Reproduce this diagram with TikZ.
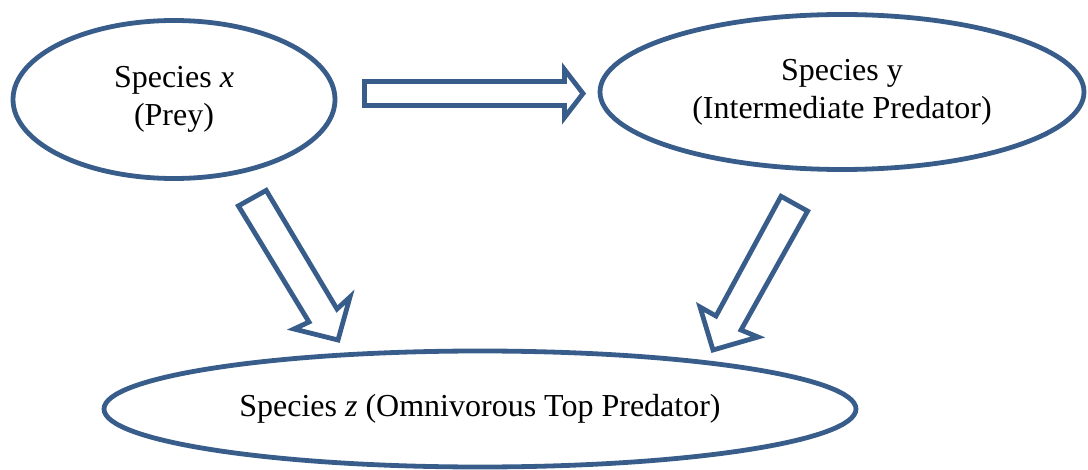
\documentclass[tikz,border=0pt]{standalone}
\usepackage{fontspec}
\setmainfont{Liberation Serif}
\usetikzlibrary{shapes.geometric}
\definecolor{edgeblue}{HTML}{385D8A}
\begin{document}
\begin{tikzpicture}[x=0.75pt,y=-0.75pt,
  species/.style={ellipse, draw=edgeblue, line width=3.6pt, inner sep=0pt, align=center,
    font=\fontsize{24}{28.5}\selectfont},
  blockarrow/.style={draw=edgeblue, line width=3.6pt, line join=miter, fill=white}]
\useasboundingbox (0,0) rectangle (1088,470);
\node[species, minimum width=241.5pt, minimum height=118.5pt] (x) at (174,99.5)
  {Species \textit{x}\\(Prey)};
\node[species, minimum width=363pt, minimum height=116.25pt] (y) at (842,92)
  {Species y\\(Intermediate Predator)};
\node[species, minimum width=564pt, minimum height=87pt] (z) at (480,409)
  {Species \textit{z} (Omnivorous Top Predator)};
% block arrows
\draw[blockarrow] (364.5,81.5) -- (564.5,81.5) -- (564.5,69.5) -- (583,93.5)
  -- (564.5,117.5) -- (564.5,105.5) -- (364.5,105.5) -- cycle;
\draw[blockarrow] (266.2,190.4) -- (337,309) -- (350,297) -- (338,340)
  -- (294,329) -- (309,322) -- (238.4,205.9) -- cycle;
\draw[blockarrow] (781,196.3) -- (807.6,211.1) -- (741,330) -- (758,337)
  -- (713,350) -- (700,307) -- (716,316) -- cycle;
\end{tikzpicture}
\end{document}
